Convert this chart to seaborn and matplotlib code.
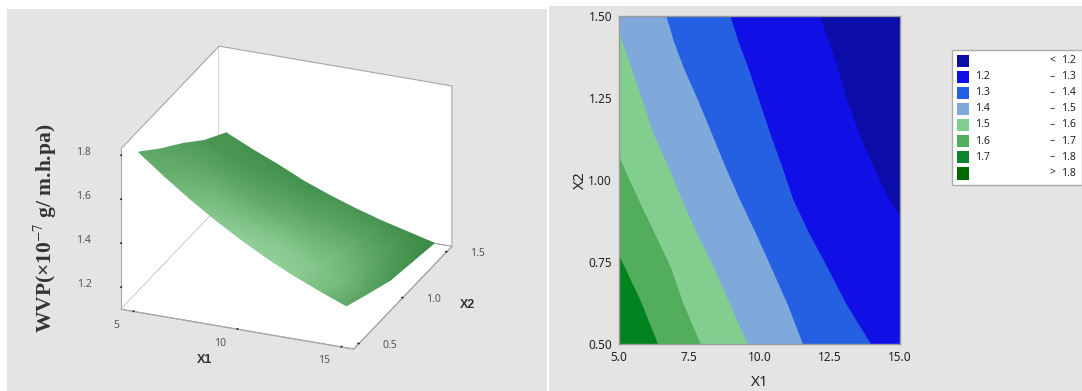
import numpy as np
import matplotlib
matplotlib.use('Agg')
import matplotlib.pyplot as plt
from matplotlib.colors import ListedColormap
from matplotlib.patches import Rectangle
from mpl_toolkits.mplot3d import proj3d
import seaborn as sns

# surface readings, WVP at each X1 / X2
surf_x1 = [5, 6.25, 7.5, 8.75, 10, 11.25, 12.5, 13.75, 15]
surf_x2 = [0.5, 0.75, 1.0, 1.25, 1.5]
surf_wvp = [[1.80, 1.71, 1.625, 1.548, 1.478, 1.414, 1.358, 1.308, 1.262],
            [1.71, 1.627, 1.55, 1.473, 1.41, 1.35, 1.29, 1.245, 1.215],
            [1.63, 1.54, 1.47, 1.41, 1.35, 1.29, 1.25, 1.21, 1.17],
            [1.54, 1.48, 1.42, 1.36, 1.30, 1.26, 1.218, 1.18, 1.15],
            [1.47, 1.415, 1.365, 1.31, 1.265, 1.225, 1.19, 1.16, 1.13]]
# how dark the green is at each surface point
surf_shade = [[.55, .45, .25, .10, 0, 0, .05, .25, .60],
              [.60, .50, .35, .25, .15, .10, .15, .30, .65],
              [.70, .60, .55, .50, .40, .35, .35, .50, .80],
              [.80, .80, .75, .70, .65, .60, .60, .70, .90],
              [.85, .90, .90, .90, .85, .85, .85, .90, 1.0]]
x1_ticks = [5, 10, 15]
x2_ticks = [0.5, 1.0, 1.5]
z_ticks = [1.2, 1.4, 1.6, 1.8]

# contour boundaries: X1 position of each level at given X2
b17_x2 = [0.5, 0.634, 0.769]
b17_x1 = [6.38, 5.75, 5.0]
b16_x2 = [0.5, 0.62, 0.736, 0.84, 0.939, 1.07]
b16_x1 = [7.9, 7.3, 6.82, 6.25, 5.69, 5.0]
b15_x2 = [0.5, 0.62, 0.736, 0.84, 0.939, 1.04, 1.14, 1.25, 1.35, 1.446]
b15_x1 = [9.57, 8.95, 8.36, 7.75, 7.23, 6.75, 6.22, 5.8, 5.4, 5.0]
b14_x2 = [0.5, 0.62, 0.736, 0.84, 0.939, 1.04, 1.14, 1.25, 1.34, 1.42, 1.5]
b14_x1 = [11.54, 11.0, 10.4, 9.85, 9.3, 8.78, 8.3, 7.77, 7.3, 6.95, 6.67]
b13_x2 = [0.5, 0.62, 0.736, 0.84, 0.939, 1.04, 1.14, 1.25, 1.34, 1.42, 1.5]
b13_x1 = [13.97, 13.1, 12.4, 11.75, 11.2, 10.8, 10.38, 9.95, 9.6, 9.25, 8.95]
b12_x2 = [0.5, 0.888, 0.96, 1.04, 1.14, 1.243, 1.35, 1.44, 1.5]
b12_x1 = [15.0, 15.0, 14.5, 14.06, 13.55, 13.11, 12.75, 12.4, 12.14]

band_colors = ['#0C0CA8', '#1010E6', '#2560E2', '#7FA8DB', '#82CE8F', '#52AE5C', '#00821F']
legend_colors = ['#0C0CA8', '#1010E6', '#2560E2', '#7FA8DB', '#82CE8F', '#52AE5C', '#0A8530', '#006A00']
legend_low = ['', '1.2', '1.3', '1.4', '1.5', '1.6', '1.7', '']
legend_sign = ['<', '–', '–', '–', '–', '–', '–', '>']
legend_high = ['1.2', '1.3', '1.4', '1.5', '1.6', '1.7', '1.8', '1.8']

W, H = 1082, 391
BG = '#E4E4E4'
sns.set_theme(style='white')
plt.rcParams['font.family'] = ['Noto Sans', 'DejaVu Sans']
plt.rcParams['mathtext.fontset'] = 'stix'

fig = plt.figure(figsize=(W / 100, H / 100), dpi=100, facecolor='white')


def box(x0, y0, x1, y1):
    # pixel box (y from top) to figure fractions
    return [x0 / W, 1 - y1 / H, (x1 - x0) / W, (y1 - y0) / H]


for x0, y0, x1, y1 in [(7, 9, 547, 391), (549, 6, 1082, 391)]:
    l, b, w, h = box(x0, y0, x1, y1)
    fig.add_artist(Rectangle((l, b), w, h, transform=fig.transFigure, fc=BG, ec='none', zorder=-5))

# left panel, box and axes of the response surface
ax3 = fig.add_axes(box(81, 3, 481, 403), projection='3d', proj_type='ortho')
ax3.patch.set_alpha(0)
ax3.view_init(elev=25, azim=-68)
ax3.set_box_aspect((251, 262, 177), zoom=0.98)
ax3.set_xlim(4.4, 15.6)
ax3.set_ylim(0.44, 1.56)
ax3.set_zlim(1.10, 1.83)
ax3.set_xticks(x1_ticks)
ax3.set_yticks(x2_ticks)
ax3.set_zticks(z_ticks)
ax3.set_xticklabels([])
ax3.set_yticklabels([])
ax3.set_zticklabels([])
ax3.grid(False)
for axis in (ax3.xaxis, ax3.yaxis, ax3.zaxis):
    axis.set_pane_color('white')
    axis.pane.set_edgecolor('#A6A6A6')
    axis.pane.set_linewidth(0.8)
    axis.line.set_color('#A6A6A6')
    axis.line.set_linewidth(0.8)
    axis._axinfo['tick']['outward_factor'] = 0.05
    axis._axinfo['tick']['inward_factor'] = 0.0
    axis._axinfo['tick']['color'] = '#A6A6A6'
ax3.zaxis.set_ticks_position('lower')

# project through the 3d axes, then draw on a pixel overlay with smooth shading
fig.canvas.draw()
M = ax3.get_proj()


def to_px(xs, ys, zs):
    px, py, _ = proj3d.proj_transform(np.asarray(xs, float), np.asarray(ys, float), np.asarray(zs, float), M)
    return ax3.transData.transform(np.column_stack([px, py]))


over = fig.add_axes([0, 0, 1, 1])
over.set_xlim(0, W)
over.set_ylim(0, H)
over.axis('off')

gx, gy = np.meshgrid(surf_x1, surf_x2)
pts = to_px(gx.ravel(), gy.ravel(), np.array(surf_wvp).ravel())
n_col = len(surf_x1)
tris = []
for r in range(len(surf_x2) - 1):
    for c in range(n_col - 1):
        a = r * n_col + c
        tris.append([a, a + 1, a + n_col])
        tris.append([a + 1, a + n_col + 1, a + n_col])
green_map = sns.blend_palette(['#90D096', '#3A8A45'], as_cmap=True)
over.tripcolor(pts[:, 0], pts[:, 1], tris, np.array(surf_shade).ravel(), cmap=green_map,
               vmin=0, vmax=1, shading='gouraud')
over.set_xlim(0, W)
over.set_ylim(0, H)

# tick labels sit a fixed pixel offset from their tick
tick_kw = dict(textcoords='offset pixels', ha='center', va='center', fontsize=7.5, color='#555555')
for v in x1_ticks:
    over.annotate(str(v), to_px([v], [0.44], [1.10])[0], xytext=(-17, -14), **tick_kw)
for v in x2_ticks:
    over.annotate(f'{v:.1f}', to_px([15.6], [v], [1.10])[0], xytext=(31, -2), **tick_kw)
for v in z_ticks:
    over.annotate(f'{v:.1f}', to_px([4.4], [0.44], [v])[0], xytext=(-37, 3), **tick_kw)
over.text(205, H - 360, 'X1', fontsize=9, fontweight='bold', family='Liberation Sans',
          color='#333333', ha='center', va='center')
over.text(468, H - 305, 'X2', fontsize=9, fontweight='bold', family='Liberation Sans',
          color='#333333', ha='center', va='center')
fig.text(45 / W, 1 - 228 / H, 'WVP(×10$^{-7}$ g/ m.h.pa)', rotation=90, ha='center', va='center',
         family='Liberation Serif', fontweight='bold', fontsize=15.5, color='#333333')

# right panel, contour map
ax = fig.add_axes(box(619, 15.7, 899.7, 344))
ax.set_facecolor(band_colors[0])
levels = [(b12_x2, b12_x1), (b13_x2, b13_x1), (b14_x2, b14_x1),
          (b15_x2, b15_x1), (b16_x2, b16_x1), (b17_x2, b17_x1)]
for (lx2, lx1), col in zip(levels, band_colors[1:]):
    # each band is painted from the left edge over the previous one
    ax.fill_betweenx(lx2, 5.0, lx1, color=col, linewidth=0)
ax.set_xlim(5, 15)
ax.set_ylim(0.5, 1.5)
ax.set_xticks([5, 7.5, 10, 12.5, 15])
ax.set_xticklabels(['5.0', '7.5', '10.0', '12.5', '15.0'])
ax.set_yticks([0.5, 0.75, 1.0, 1.25, 1.5])
ax.set_yticklabels(['0.50', '0.75', '1.00', '1.25', '1.50'])
ax.tick_params(length=3, width=1, color='#9A9A9A', labelsize=8.5, labelcolor='#222222', pad=2)
for s in ax.spines.values():
    s.set_color('#9A9A9A')
    s.set_linewidth(1)
ax.set_xlabel('X1', fontsize=11, color='#222222', labelpad=8)
ax.set_ylabel('X2', fontsize=11, color='#222222', labelpad=0)

# legend box with swatches
l, b, w, h = box(952, 50, 1082, 185)
fig.add_artist(Rectangle((l, b), w, h, transform=fig.transFigure, fc='white', ec='#ABABAB', lw=1, zorder=-4))
ax_leg = fig.add_axes(box(955, 52.5, 971, 181.5))
sns.heatmap(np.arange(8).reshape(8, 1), cmap=ListedColormap(legend_colors), cbar=False,
            linewidths=2.6, linecolor='white', xticklabels=False, yticklabels=False, ax=ax_leg)
for i in range(8):
    y = 1 - (60.5 + i * 16.1) / H
    fig.text(975 / W, y, legend_low[i], fontsize=7.5, color='#222222', va='center')
    fig.text(1052 / W, y, legend_sign[i], fontsize=7.5, color='#222222', va='center', ha='center')
    fig.text(1068 / W, y, legend_high[i], fontsize=7.5, color='#222222', va='center', ha='center')

fig.savefig('out.png', dpi=100)
